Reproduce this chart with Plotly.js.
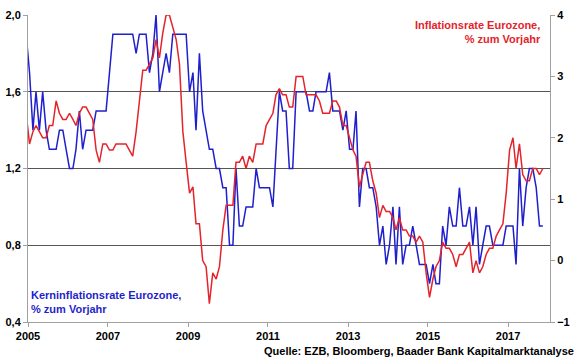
<!DOCTYPE html>
<html>
<head>
<meta charset="utf-8">
<script src="https://cdn.plot.ly/plotly-3.0.1.min.js"></script>
<style>html,body{margin:0;padding:0;background:#fff;}#chart{width:580px;height:358px;}</style>
</head>
<body>
<div id="chart"></div>
<script>
// Monthly series, starting December 2004, ending November 2017
const startYear = 2004;
const startMonth = 12;

// Kerninflationsrate Eurozone, % zum Vorjahr (left axis)
const coreInflation = [
  1.9,
  1.7, 1.4, 1.6, 1.4, 1.6, 1.4, 1.3, 1.3, 1.3, 1.4, 1.4, 1.3,
  1.2, 1.2, 1.3, 1.5, 1.3, 1.4, 1.4, 1.4, 1.5, 1.5, 1.5, 1.5,
  1.7, 1.9, 1.9, 1.9, 1.9, 1.9, 1.9, 1.9, 1.8, 1.9, 1.9, 1.9,
  1.7, 1.8, 2.0, 1.6, 1.7, 1.8, 1.7, 1.9, 1.9, 1.9, 1.9, 1.9,
  1.6, 1.7, 1.4, 1.8, 1.5, 1.4, 1.3, 1.3, 1.2, 1.2, 1.1, 1.1,
  0.8, 0.8, 1.2, 0.9, 0.9, 1.0, 1.0, 1.0, 1.2, 1.1, 1.1, 1.1,
  1.1, 1.0, 1.3, 1.6, 1.5, 1.5, 1.2, 1.2, 1.6, 1.6, 1.6, 1.6,
  1.5, 1.5, 1.6, 1.6, 1.6, 1.6, 1.7, 1.5, 1.5, 1.5, 1.4, 1.5,
  1.3, 1.3, 1.5, 1.0, 1.2, 1.2, 1.1, 1.1, 1.0, 0.8, 0.9, 0.7,
  0.8, 1.0, 0.7, 1.0, 0.7, 0.8, 0.8, 0.9, 0.8, 0.7, 0.7, 0.7,
  0.6, 0.7, 0.6, 0.6, 0.9, 0.8, 1.0, 0.9, 0.9, 1.1, 0.9, 0.9,
  1.0, 0.8, 1.0, 0.7, 0.8, 0.9, 0.9, 0.8, 0.8, 0.8, 0.8, 0.9,
  0.9, 0.9, 0.7, 1.2, 0.9, 1.1, 1.2, 1.2, 1.1, 0.9, 0.9
];

// Inflationsrate Eurozone, % zum Vorjahr (right axis)
const headlineInflation = [
  2.4,
  1.9, 2.1, 2.2, 2.1, 2.0, 2.0, 2.2, 2.2, 2.6, 2.4, 2.3, 2.3,
  2.4, 2.3, 2.2, 2.4, 2.5, 2.5, 2.4, 2.3, 1.8, 1.6, 1.9, 1.9,
  1.8, 1.8, 1.9, 1.9, 1.9, 1.9, 1.8, 1.7, 2.1, 2.6, 3.1, 3.1,
  3.2, 3.3, 3.6, 3.3, 3.7, 4.0, 4.0, 3.8, 3.6, 3.2, 2.1, 1.6,
  1.1, 1.2, 0.6, 0.6, 0.0, -0.1, -0.7, -0.2, -0.3, -0.1, 0.5, 0.9,
  0.9, 0.9, 1.6, 1.6, 1.7, 1.5, 1.7, 1.6, 1.9, 1.9, 1.9, 2.2,
  2.3, 2.4, 2.7, 2.8, 2.7, 2.7, 2.5, 2.5, 3.0, 3.0, 3.0, 2.7,
  2.7, 2.7, 2.7, 2.6, 2.4, 2.4, 2.4, 2.6, 2.6, 2.5, 2.2, 2.2,
  2.0, 1.8, 1.7, 1.2, 1.4, 1.6, 1.6, 1.3, 1.1, 0.7, 0.9, 0.8,
  0.8, 0.7, 0.5, 0.7, 0.5, 0.5, 0.4, 0.4, 0.3, 0.4, 0.3, -0.2,
  -0.6, -0.3, -0.1, 0.0, 0.3, 0.2, 0.2, 0.1, -0.1, 0.1, 0.1, 0.2,
  0.3, -0.2, 0.0, -0.2, -0.1, 0.1, 0.2, 0.2, 0.4, 0.5, 0.6, 1.1,
  1.8, 2.0, 1.5, 1.9, 1.4, 1.3, 1.3, 1.5, 1.5, 1.4, 1.5
];

const coreLabel = 'Kerninflationsrate Eurozone,<br>% zum Vorjahr';
const headlineLabel = 'Inflationsrate Eurozone,<br>% zum Vorjahr';
const sourceLabel = 'Quelle: EZB, Bloomberg, Baader Bank Kapitalmarktanalyse';

function monthDates(n) {
  const out = [];
  let y = startYear, m = startMonth;
  for (let i = 0; i < n; i++) {
    out.push(y + '-' + String(m).padStart(2, '0') + '-15');
    m++;
    if (m > 12) { m = 1; y++; }
  }
  return out;
}

const dates = monthDates(coreInflation.length);

const FONT = 'Liberation Sans, Arial, sans-serif';
const BLUE = '#1f1fcc';
const RED = '#e4232b';
const AXIS = '#a0a0a0';
const tickFont = {family: FONT, size: 11, color: '#000', weight: 'bold'};

const traces = [
  {x: dates, y: coreInflation, type: 'scatter', mode: 'lines', yaxis: 'y',
   line: {color: BLUE, width: 1.5}, hoverinfo: 'skip'},
  {x: dates, y: headlineInflation, type: 'scatter', mode: 'lines', yaxis: 'y2',
   line: {color: RED, width: 1.5}, hoverinfo: 'skip'}
];

const layout = {
  width: 580, height: 358,
  margin: {l: 28, r: 30, t: 15, b: 36, pad: 0},
  paper_bgcolor: '#fff', plot_bgcolor: '#fff',
  separators: ',.',
  showlegend: false,
  font: {family: FONT},
  xaxis: {
    type: 'date', range: ['2005-01-01', '2018-01-19'],
    tick0: '2005-01-01', dtick: 'M24', tickformat: '%Y',
    ticks: 'outside', ticklen: 4, tickcolor: AXIS,
    showline: true, linecolor: AXIS, linewidth: 1,
    showgrid: false, zeroline: false, tickfont: tickFont
  },
  yaxis: {
    range: [0.4, 2.0], tick0: 0.4, dtick: 0.4, tickformat: '.1f',
    ticks: 'outside', ticklen: 4, tickcolor: AXIS,
    showline: true, linecolor: AXIS, linewidth: 1,
    showgrid: true, gridcolor: '#555', gridwidth: 1,
    zeroline: false, tickfont: tickFont
  },
  yaxis2: {
    overlaying: 'y', side: 'right', range: [-1, 4], tick0: -1, dtick: 1,
    ticks: 'outside', ticklen: 4, tickcolor: AXIS,
    showline: true, linecolor: AXIS, linewidth: 1,
    showgrid: false, zeroline: false, tickfont: tickFont
  },
  annotations: [
    {text: headlineLabel, xref: 'paper', yref: 'paper', x: 0.986, y: 0.992,
     xanchor: 'right', yanchor: 'top', align: 'right', showarrow: false,
     font: {family: FONT, size: 11, color: RED, weight: 'bold'}},
    {text: coreLabel, xref: 'paper', yref: 'paper', x: 0.002, y: 0.115,
     xanchor: 'left', yanchor: 'top', align: 'left', showarrow: false,
     font: {family: FONT, size: 11, color: BLUE, weight: 'bold'}},
    {text: sourceLabel, xref: 'paper', yref: 'paper', x: 1.0498, y: -0.0945,
     xanchor: 'right', yanchor: 'middle', align: 'right', showarrow: false,
     font: {family: FONT, size: 11, color: '#000', weight: 'bold'}}
  ]
};

Plotly.newPlot('chart', traces, layout, {displayModeBar: false, staticPlot: true});
</script>
</body>
</html>
